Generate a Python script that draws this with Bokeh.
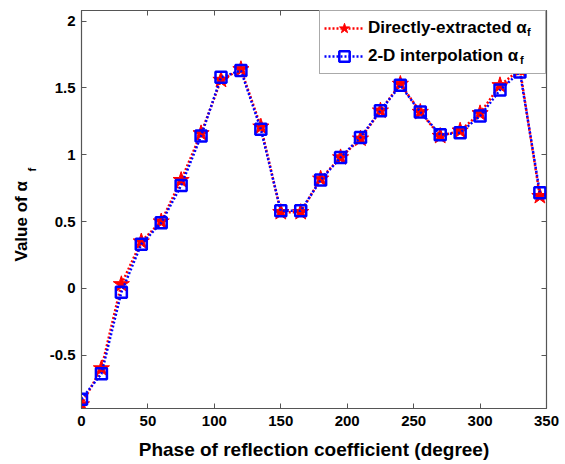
import math
from bokeh.plotting import figure
from bokeh.models import (Legend, LegendItem, LinearAxis, FixedTicker, Range1d)
from bokeh.embed import file_html
from bokeh.resources import INLINE

# ---- data ----
phase = [0, 15, 30, 45, 60, 75, 90, 105, 120, 135, 150, 165,
         180, 195, 210, 225, 240, 255, 270, 285, 300, 315, 330, 345]
direct_alpha = [-0.87, -0.60, 0.03, 0.35, 0.50, 0.81, 1.16, 1.56, 1.64, 1.21, 0.57, 0.57,
                0.82, 0.98, 1.12, 1.33, 1.53, 1.32, 1.14, 1.18, 1.31, 1.52, 1.64, 0.69]
interp_alpha = [-0.83, -0.64, -0.03, 0.33, 0.49, 0.77, 1.14, 1.58, 1.63, 1.19, 0.58, 0.58,
                0.81, 0.98, 1.13, 1.33, 1.52, 1.32, 1.15, 1.165, 1.29, 1.485, 1.62, 0.715]
x_ticks = [0, 50, 100, 150, 200, 250, 300, 350]
y_ticks = [-0.5, 0, 0.5, 1, 1.5, 2]
y_tick_labels = {-0.5: "-0.5", 0: "0", 0.5: "0.5", 1: "1", 1.5: "1.5", 2: "2"}

FONT = "Liberation Sans"
AXC = "#555555"
NBSP = "\u00a0"

p = figure(width=565, height=464, output_backend="svg", toolbar_location=None,
           x_range=Range1d(0, 350), y_range=Range1d(-0.9, 2.08),
           min_border_left=81, min_border_right=19, min_border_top=10, min_border_bottom=56)

p.xgrid.visible = False
p.ygrid.visible = False
p.outline_line_color = AXC
p.outline_line_width = 1.2
p.background_fill_color = "white"
p.border_fill_color = "white"

for ax, ticks in ((p.xaxis[0], x_ticks), (p.yaxis[0], y_ticks)):
    ax.ticker = FixedTicker(ticks=ticks)
    ax.axis_line_color = AXC
    ax.major_tick_line_color = AXC
    ax.major_tick_in = 5
    ax.major_tick_out = 0
    ax.minor_tick_line_color = None
    ax.major_label_text_font = FONT
    ax.major_label_text_font_style = "bold"
    ax.major_label_text_font_size = "15px"
    ax.major_label_text_color = "black"
p.yaxis[0].major_label_overrides = y_tick_labels
p.xaxis[0].major_label_standoff = 7
p.yaxis[0].major_label_standoff = 6

p.xaxis[0].axis_label = "Phase of reflection coefficient (degree)"
p.xaxis[0].axis_label_text_font = FONT
p.xaxis[0].axis_label_text_font_style = "bold"
p.xaxis[0].axis_label_text_font_size = "19px"
p.xaxis[0].axis_label_text_color = "black"
p.xaxis[0].axis_label_standoff = 10

p.yaxis[0].axis_label = "Value of α" + NBSP * 5
p.yaxis[0].axis_label_text_font = FONT
p.yaxis[0].axis_label_text_font_style = "bold"
p.yaxis[0].axis_label_text_font_size = "17px"
p.yaxis[0].axis_label_text_color = "black"
p.yaxis[0].axis_label_standoff = 16

# subscript "f" of the y label, carried by an extra (tickless) left axis
ysub = LinearAxis(ticker=FixedTicker(ticks=[]), axis_line_color=None,
                  major_tick_line_color=None, minor_tick_line_color=None,
                  major_label_text_font_size="0px", major_label_text_color=None,
                  major_label_standoff=0,
                  axis_label=NBSP * 26 + "f", axis_label_standoff=-29,
                  axis_label_text_font=FONT, axis_label_text_font_style="bold",
                  axis_label_text_font_size="11px", axis_label_text_color="black")
p.add_layout(ysub, "left")

# mirrored ticks (top / right)
top = LinearAxis(ticker=FixedTicker(ticks=x_ticks), major_label_text_font_size="0px",
                 major_label_text_color=None,
                 major_tick_in=5, major_tick_out=0, minor_tick_line_color=None,
                 axis_line_color=None, major_tick_line_color=AXC, major_label_standoff=0)
right = LinearAxis(ticker=FixedTicker(ticks=y_ticks), major_label_text_font_size="0px",
                   major_label_text_color=None,
                   major_tick_in=5, major_tick_out=0, minor_tick_line_color=None,
                   axis_line_color=None, major_tick_line_color=AXC, major_label_standoff=0)
p.add_layout(top, "above")
p.add_layout(right, "right")

# series
r_line = p.line(phase, direct_alpha, line_color="red", line_width=2.5, line_dash="2 2")
r_pts = p.scatter(phase, direct_alpha, marker="star", size=17, fill_color="red",
                  line_color="red", line_width=1)
b_line = p.line(phase, interp_alpha, line_color="blue", line_width=2.5, line_dash="2 2")
b_pts = p.scatter(phase, interp_alpha, marker="square", size=11, fill_color=None,
                  line_color="blue", line_width=2.5)

legend = Legend(items=[
    LegendItem(label="Directly-extracted α", renderers=[r_line, r_pts]),
    LegendItem(label="2-D interpolation α", renderers=[b_line, b_pts]),
], location="top_right", margin=0, padding=4, spacing=2,
    glyph_width=40, glyph_height=26, label_height=26, label_width=173, label_standoff=4,
    label_text_font=FONT, label_text_font_style="bold", label_text_font_size="17px",
    label_text_color="black", border_line_color=AXC, border_line_width=1.2,
    background_fill_color="white", background_fill_alpha=1)
p.add_layout(legend)

# subscript "f" after each legend label (tiny extra legends drawn on top)
for loc in ((446, 370), (439, 342)):
    sub = Legend(items=[LegendItem(label="f", renderers=[])], location=loc, margin=0,
                 padding=0, spacing=0, glyph_width=0, glyph_height=12, label_height=12,
                 label_width=6, label_standoff=0, label_text_font=FONT,
                 label_text_font_style="bold", label_text_font_size="11px",
                 label_text_color="black", border_line_color=None,
                 background_fill_alpha=0)
    p.add_layout(sub)

open("out.html", "w").write(file_html(p, INLINE))
